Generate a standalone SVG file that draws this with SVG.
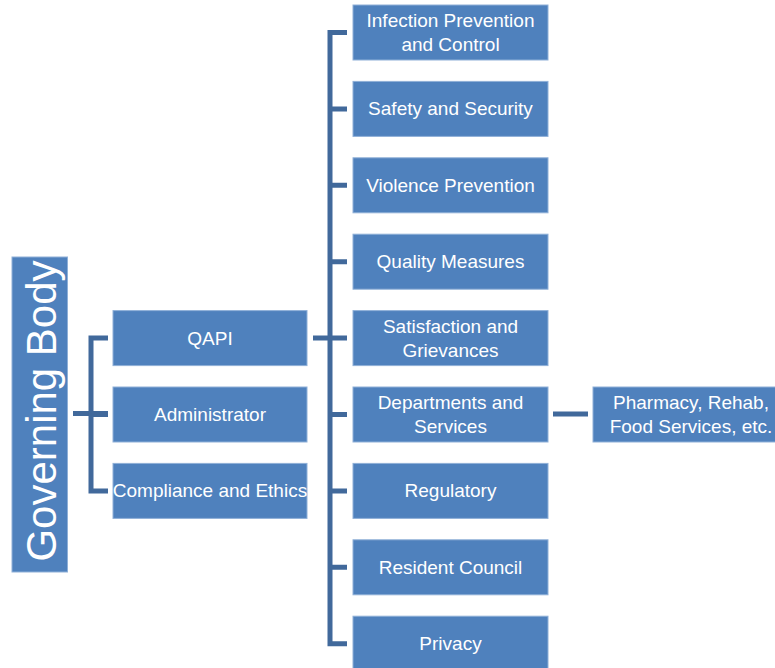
<svg xmlns="http://www.w3.org/2000/svg" width="775" height="668" viewBox="0 0 775 668">
<style>
.box{fill:#4f81bd;stroke:#8fb0d8;stroke-width:1}
.t{font-family:"Liberation Sans",Arial,sans-serif;font-size:19px;fill:#ffffff;text-anchor:middle}
.big{font-family:"Liberation Sans",Arial,sans-serif;font-size:42px;fill:#ffffff;text-anchor:middle}
.c{fill:none;stroke:#41699b;stroke-width:5;stroke-linejoin:miter}
</style>
<rect width="775" height="668" fill="#ffffff"/>
<g id="connectors">
<path class="c" d="M73,413.5 H108"/>
<path class="c" d="M108,338 H91 V491 H108"/>
<path class="c" d="M91,414.5 H108"/>
<path class="c" d="M313,338 H330"/>
<path class="c" d="M347,32.5 H330 V643.7 H347"/>
<path class="c" d="M330,108.9 H347 M330,185.3 H347 M330,261.7 H347 M330,338.1 H347 M330,414.5 H347 M330,490.9 H347 M330,567.3 H347"/>
<path class="c" d="M553,414 H588"/>
</g>
<g id="governing-body">
<rect class="box" x="12" y="257" width="55.5" height="315"/>
<text class="big" transform="translate(56,411) rotate(-90)">Governing Body</text>
</g>
<g id="qapi">
<rect class="box" x="113" y="310.6" width="194" height="55"/>
<text class="t" x="210" y="344.6">QAPI</text>
</g>
<g id="administrator">
<rect class="box" x="113" y="387" width="194" height="55"/>
<text class="t" x="210" y="421">Administrator</text>
</g>
<g id="compliance">
<rect class="box" x="113" y="463.4" width="194" height="55"/>
<text class="t" x="210" y="497.4">Compliance and Ethics</text>
</g>
<g id="infection">
<rect class="box" x="353" y="5" width="195" height="55"/>
<text class="t" x="450.5" y="27">Infection Prevention</text>
<text class="t" x="450.5" y="51">and Control</text>
</g>
<g id="safety">
<rect class="box" x="353" y="81.4" width="195" height="55"/>
<text class="t" x="450.5" y="115.4">Safety and Security</text>
</g>
<g id="violence">
<rect class="box" x="353" y="157.8" width="195" height="55"/>
<text class="t" x="450.5" y="191.8">Violence Prevention</text>
</g>
<g id="quality">
<rect class="box" x="353" y="234.2" width="195" height="55"/>
<text class="t" x="450.5" y="268.2">Quality Measures</text>
</g>
<g id="satisfaction">
<rect class="box" x="353" y="310.6" width="195" height="55"/>
<text class="t" x="450.5" y="332.6">Satisfaction and</text>
<text class="t" x="450.5" y="356.6">Grievances</text>
</g>
<g id="departments">
<rect class="box" x="353" y="387" width="195" height="55"/>
<text class="t" x="450.5" y="409">Departments and</text>
<text class="t" x="450.5" y="433">Services</text>
</g>
<g id="regulatory">
<rect class="box" x="353" y="463.4" width="195" height="55"/>
<text class="t" x="450.5" y="497.4">Regulatory</text>
</g>
<g id="resident">
<rect class="box" x="353" y="539.8" width="195" height="55"/>
<text class="t" x="450.5" y="573.8">Resident Council</text>
</g>
<g id="privacy">
<rect class="box" x="353" y="616.2" width="195" height="55"/>
<text class="t" x="450.5" y="650.2">Privacy</text>
</g>
<g id="pharmacy">
<rect class="box" x="593" y="387" width="184" height="55"/>
<text class="t" x="691" y="409">Pharmacy, Rehab,</text>
<text class="t" x="691" y="433">Food Services, etc.</text>
</g>
</svg>
